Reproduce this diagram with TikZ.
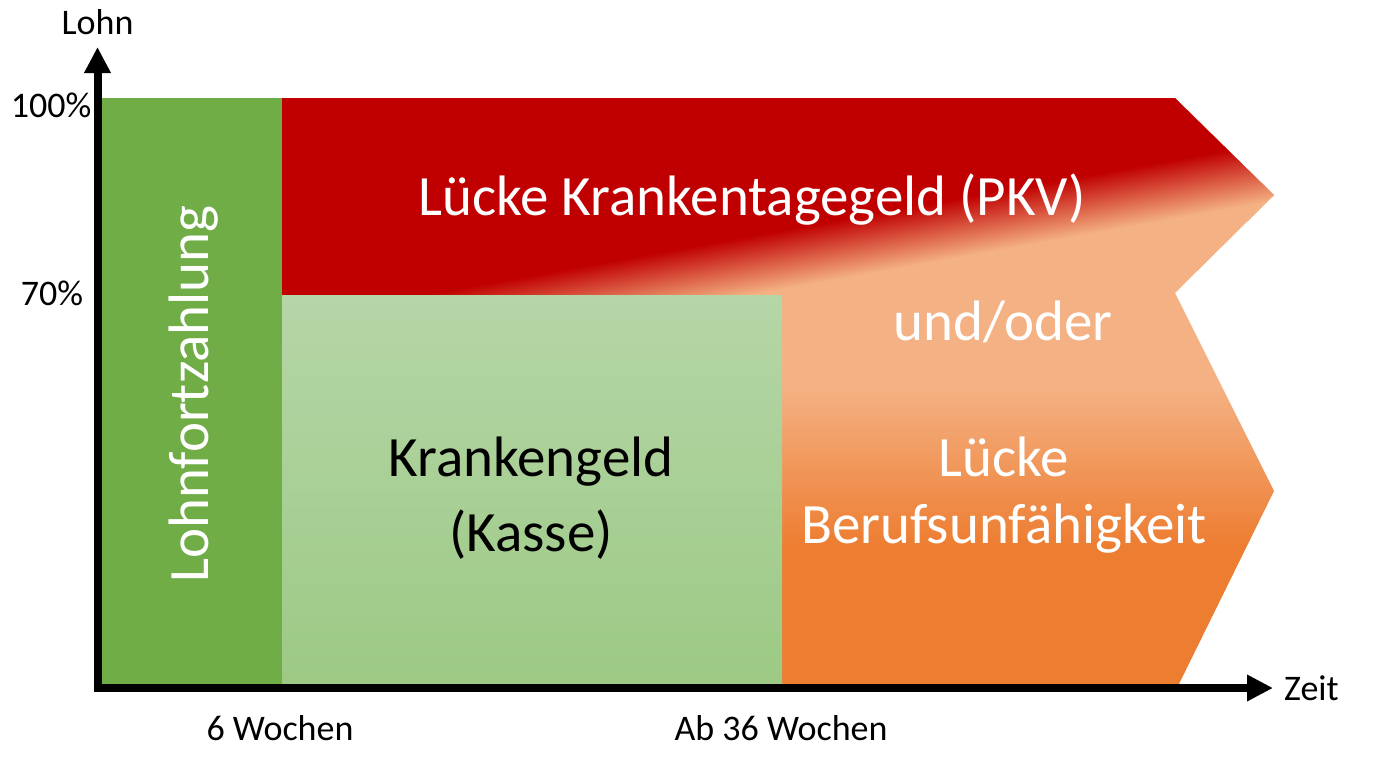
\documentclass[tikz,border=0pt]{standalone}
\usepackage{fontspec}
\setmainfont{Carlito}
\usetikzlibrary{positioning, arrows.meta}

\definecolor{lfzgreen}{HTML}{70AD47}
\definecolor{kgtop}{HTML}{B5D6A7}
\definecolor{kgbottom}{HTML}{9CC984}
\definecolor{gapred}{HTML}{C00000}
\definecolor{orlight}{HTML}{F4B183}
\definecolor{ordark}{HTML}{ED7D31}

\pgfdeclareverticalshading{orfade}{100bp}{color(0bp)=(ordark); color(37bp)=(ordark); color(50.5bp)=(orlight); color(100bp)=(orlight)}
\pgfdeclareverticalshading{redband}{100bp}{color(0bp)=(orlight); color(48.6bp)=(orlight); color(51.4bp)=(gapred); color(100bp)=(gapred)}

\begin{document}
\begin{tikzpicture}[
    x=1pt, y=-1pt,
    every node/.style={inner sep=0pt},
    small/.style={font=\fontsize{36}{43}\selectfont},
    big/.style={font=\fontsize{57}{67}\selectfont},
    axis/.style={line width=8pt, -{Triangle[length=26pt, width=25pt]}},
    lfz/.style={fill=lfzgreen},
    kasse/.style={top color=kgtop, bottom color=kgbottom},
    gap/.style={shading=orfade},
    band/.style={shading=redband, shading angle=10.2}
]
\useasboundingbox (0,0) rectangle (1389,766);

% Gap arrow
\coordinate (g1) at (282,98);
\coordinate (g2) at (1175,98);
\coordinate (g3) at (1274,195);
\coordinate (g4) at (1175,293);
\coordinate (g5) at (1274,491);
\coordinate (g6) at (1177,688);
\coordinate (g7) at (282,688);
\shade[gap] (g1) -- (g2) -- (g3) -- (g4) -- (g5) -- (g6) -- (g7) -- cycle;

% red part of the gap
\begin{scope}
  \clip (g1) -- (g2) -- (g3) -- (g4) -- (g5) -- (g6) -- (g7) -- cycle;
  \clip (270,90) -- (1290,90) -- (1290,214) -- (270,397) -- cycle;
  \shade[band] (260,-260) rectangle (1300,780);
\end{scope}

% Krankengeld and Lohnfortzahlung
\shade[kasse] (282,295) rectangle (782,688);
\fill[lfz] (97,98) rectangle (282,688);

% Axes
\coordinate (origin) at (97.5,688);
\coordinate (ytip) at (97.5,47);
\coordinate (xtip) at (1273,688);
\draw[axis] ([yshift=-4pt]origin) -- (ytip);
\draw[axis] ([xshift=-4pt]origin) -- (xtip);

% Axis labels
\node[small, above=12pt of ytip] (lohn) {Lohn};
\node[small, right=11pt of xtip] (zeit) {Zeit};
\node[small, anchor=base] (p100) at (51,117) {100\%};
\node[small, anchor=base] (p70) at (52,305) {70\%};
\node[small, anchor=base] (w6_label) at (280,740) {6 Wochen};
\node[small, anchor=base] (w36_label) at (781,740) {Ab 36 Wochen};

% Area labels
\node[big, text=white, anchor=base] (pkv) at (752,215) {Lücke Krankentagegeld (PKV)};
\node[big, text=white, rotate=90, anchor=base] (lfz_label) at (208,394) {Lohnfortzahlung};
\node[big, align=center, anchor=base] (kg) at (531,551) {Krankengeld\\[8pt](Kasse)};
\node[big, text=white, anchor=base] (undoder) at (1003,340) {und/oder};
\node[big, text=white, align=center, anchor=base] (bu) at (1004,543) {Lücke\\Berufsunfähigkeit};

\end{tikzpicture}
\end{document}
